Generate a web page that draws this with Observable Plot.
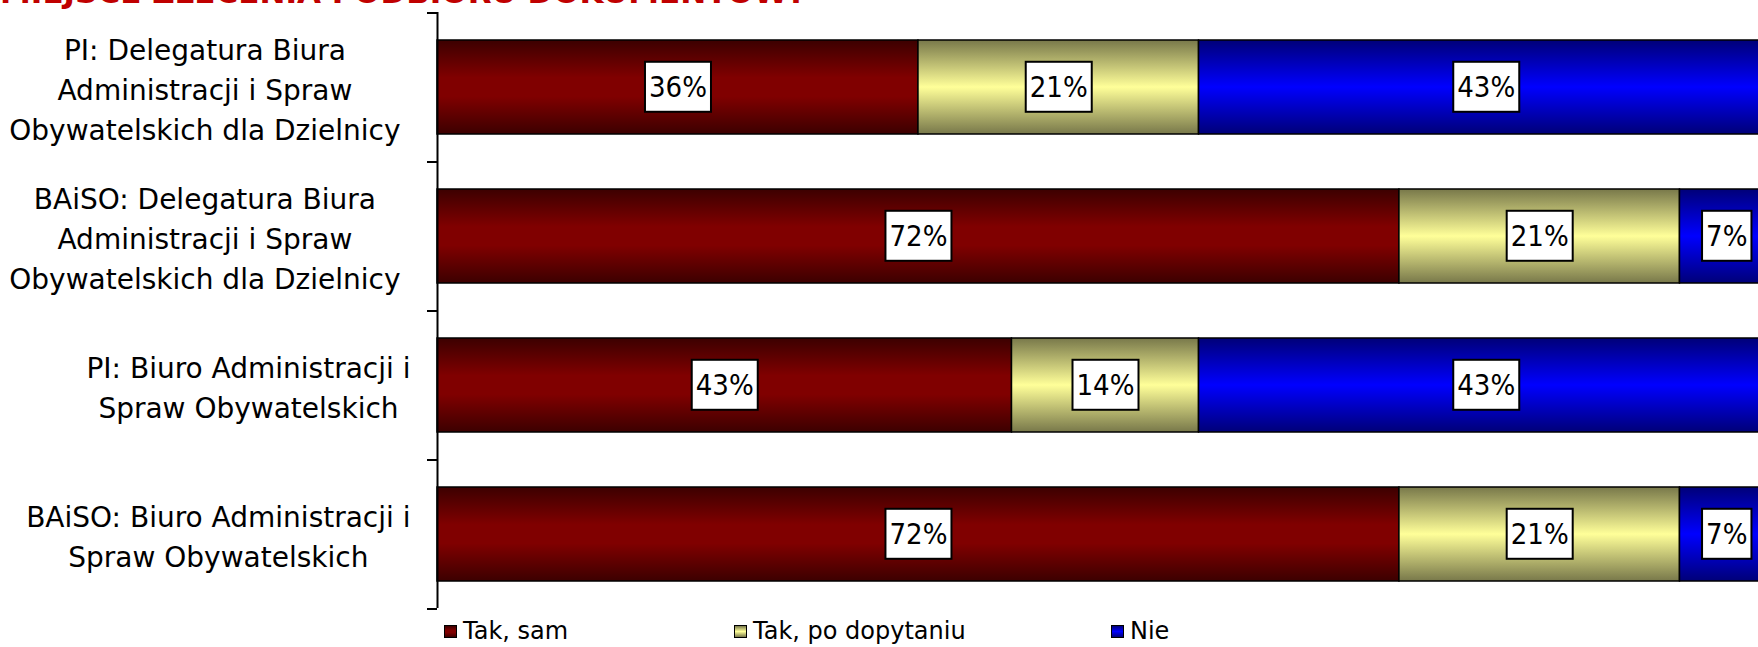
<!DOCTYPE html>
<html><head><meta charset="utf-8">
<script src="https://cdn.jsdelivr.net/npm/d3@7"></script>
<script src="https://cdn.jsdelivr.net/npm/@observablehq/plot@0.6"></script>
<style>
html,body{margin:0;padding:0;background:#fff;}
body{width:1758px;height:647px;overflow:hidden;position:relative;font-family:"DejaVu Sans",sans-serif;}
#title{position:absolute;left:0;top:-23px;font-size:31px;line-height:30px;color:#c00000;font-weight:bold;white-space:nowrap;z-index:2;}
#chart{position:absolute;left:0;top:0;z-index:1;}
#legend{position:absolute;left:444px;top:618px;height:26px;display:flex;align-items:center;font-size:24px;color:#000;z-index:1;}
.item{display:flex;align-items:center;}
.sw{width:11px;height:11px;border:1.5px solid #000;margin-right:6px;}
</style></head><body>
<div id="title">MIEJSCE ZLECENIA I ODBIORU DOKUMENTÓW?</div>
<div id="chart"></div>
<div id="legend"></div>
<script>
const categories = [
  "PI: Delegatura Biura\nAdministracji i Spraw\nObywatelskich dla Dzielnicy",
  "BAiSO: Delegatura Biura\nAdministracji i Spraw\nObywatelskich dla Dzielnicy",
  "PI: Biuro Administracji i\nSpraw Obywatelskich",
  "BAiSO: Biuro Administracji i\nSpraw Obywatelskich"
];
const seriesNames = ["Tak, sam", "Tak, po dopytaniu", "Nie"];
const takSam = [36, 72, 43, 72];
const takPoDopytaniu = [21, 21, 14, 21];
const nie = [43, 7, 43, 7];

const seriesValues = [takSam, takPoDopytaniu, nie];
const rows = [];
categories.forEach((c, i) => {
  seriesNames.forEach((s, j) => rows.push({cat: c, series: s, value: seriesValues[j][i]}));
});

const gradients = [
  {id: "gSam", stops: [[0, "#3c0000"], [0.4, "#800000"], [0.6, "#800000"], [1, "#3c0000"]]},
  {id: "gDop", stops: [[0, "#78784a"], [0.5, "#ffff99"], [1, "#78784a"]]},
  {id: "gNie", stops: [[0, "#000078"], [0.5, "#0000ff"], [1, "#000078"]]}
];

const labelFont = 28;
const ns = "http://www.w3.org/2000/svg";
const tmp = document.createElementNS(ns, "svg");
tmp.setAttribute("width", 10); tmp.setAttribute("height", 10);
document.body.appendChild(tmp);
const blockWidths = categories.map(c => {
  return Math.max(...c.split("\n").map(line => {
    const t = document.createElementNS(ns, "text");
    t.setAttribute("font-family", "DejaVu Sans");
    t.setAttribute("font-size", labelFont);
    t.textContent = line;
    tmp.appendChild(t);
    const w = t.getComputedTextLength();
    tmp.removeChild(t);
    return w;
  }));
});
tmp.remove();

const top0 = 12, bottom0 = 608, H = 612;
const step = (bottom0 - top0) / categories.length;
const gaps = [37, 37, 27, 27];

const chart = Plot.plot({
  width: 1758, height: H,
  marginTop: top0, marginBottom: H - bottom0, marginLeft: 437, marginRight: 0,
  x: {domain: [0, 100], range: [437, 1773], axis: null},
  y: {domain: categories, paddingInner: 0.37, paddingOuter: 0.185, axis: null},
  color: {domain: seriesNames, range: gradients.map(g => `url(#${g.id})`)},
  style: {fontFamily: "DejaVu Sans", background: "white"},
  marks: [
    Plot.barX(rows, Plot.stackX({y: "cat", x: "value", fill: "series", stroke: "#000", strokeWidth: 1.5})),
    Plot.text(rows, Plot.stackX({y: "cat", x: "value", text: d => d.value + "%", fontSize: 29, fill: "#000"})),
    Plot.ruleX([0], {stroke: "#000", strokeWidth: 2}),
    Plot.ruleY(categories, {y: d => d, x1: 0, x2: 0, insetLeft: -10, dy: -step / 2, stroke: "#000", strokeWidth: 2}),
    Plot.ruleY([categories[categories.length - 1]], {y: d => d, x1: 0, x2: 0, insetLeft: -10, dy: step / 2, stroke: "#000", strokeWidth: 2}),
    ...categories.map((c, i) => Plot.text([c], {
      y: d => d, text: d => d, frameAnchor: "left", textAnchor: "middle", lineAnchor: "middle",
      lineHeight: 40 / labelFont, fontSize: labelFont, fill: "#000", dx: -(gaps[i] + blockWidths[i] / 2)
    }))
  ]
});
document.getElementById("chart").appendChild(chart);

const svg = chart.tagName.toLowerCase() === "svg" ? chart : chart.querySelector("svg");
const defs = document.createElementNS(ns, "defs");
gradients.forEach(g => {
  const lg = document.createElementNS(ns, "linearGradient");
  lg.setAttribute("id", g.id);
  lg.setAttribute("x1", 0); lg.setAttribute("y1", 0); lg.setAttribute("x2", 0); lg.setAttribute("y2", 1);
  g.stops.forEach(([o, c]) => {
    const s = document.createElementNS(ns, "stop");
    s.setAttribute("offset", o); s.setAttribute("stop-color", c);
    lg.appendChild(s);
  });
  defs.appendChild(lg);
});
svg.insertBefore(defs, svg.firstChild);

svg.querySelectorAll("text").forEach(t => {
  if (!/^\d+%$/.test(t.textContent)) return;
  t.setAttribute("font-stretch", "condensed");
  t.style.fontStretch = "condensed";
  const b = t.getBBox();
  const cy = b.y + b.height / 2;
  const r = document.createElementNS(ns, "rect");
  r.setAttribute("x", b.x - 4);
  r.setAttribute("width", b.width + 8);
  r.setAttribute("y", cy - 25);
  r.setAttribute("height", 50);
  r.setAttribute("fill", "#fff");
  r.setAttribute("stroke", "#000");
  r.setAttribute("stroke-width", 2);
  const tr = t.getAttribute("transform");
  if (tr) r.setAttribute("transform", tr);
  t.parentNode.insertBefore(r, t);
});

const legend = document.getElementById("legend");
const itemWidths = [290, 377, null];
seriesNames.forEach((s, j) => {
  const it = document.createElement("div");
  it.className = "item";
  if (itemWidths[j]) it.style.width = itemWidths[j] + "px";
  const sw = document.createElement("div");
  sw.className = "sw";
  sw.style.background = `linear-gradient(to bottom, ${gradients[j].stops.map(([o, c]) => c + " " + (o * 100) + "%").join(", ")})`;
  const tx = document.createElement("span");
  tx.textContent = s;
  it.appendChild(sw); it.appendChild(tx);
  legend.appendChild(it);
});
</script>
</body></html>
